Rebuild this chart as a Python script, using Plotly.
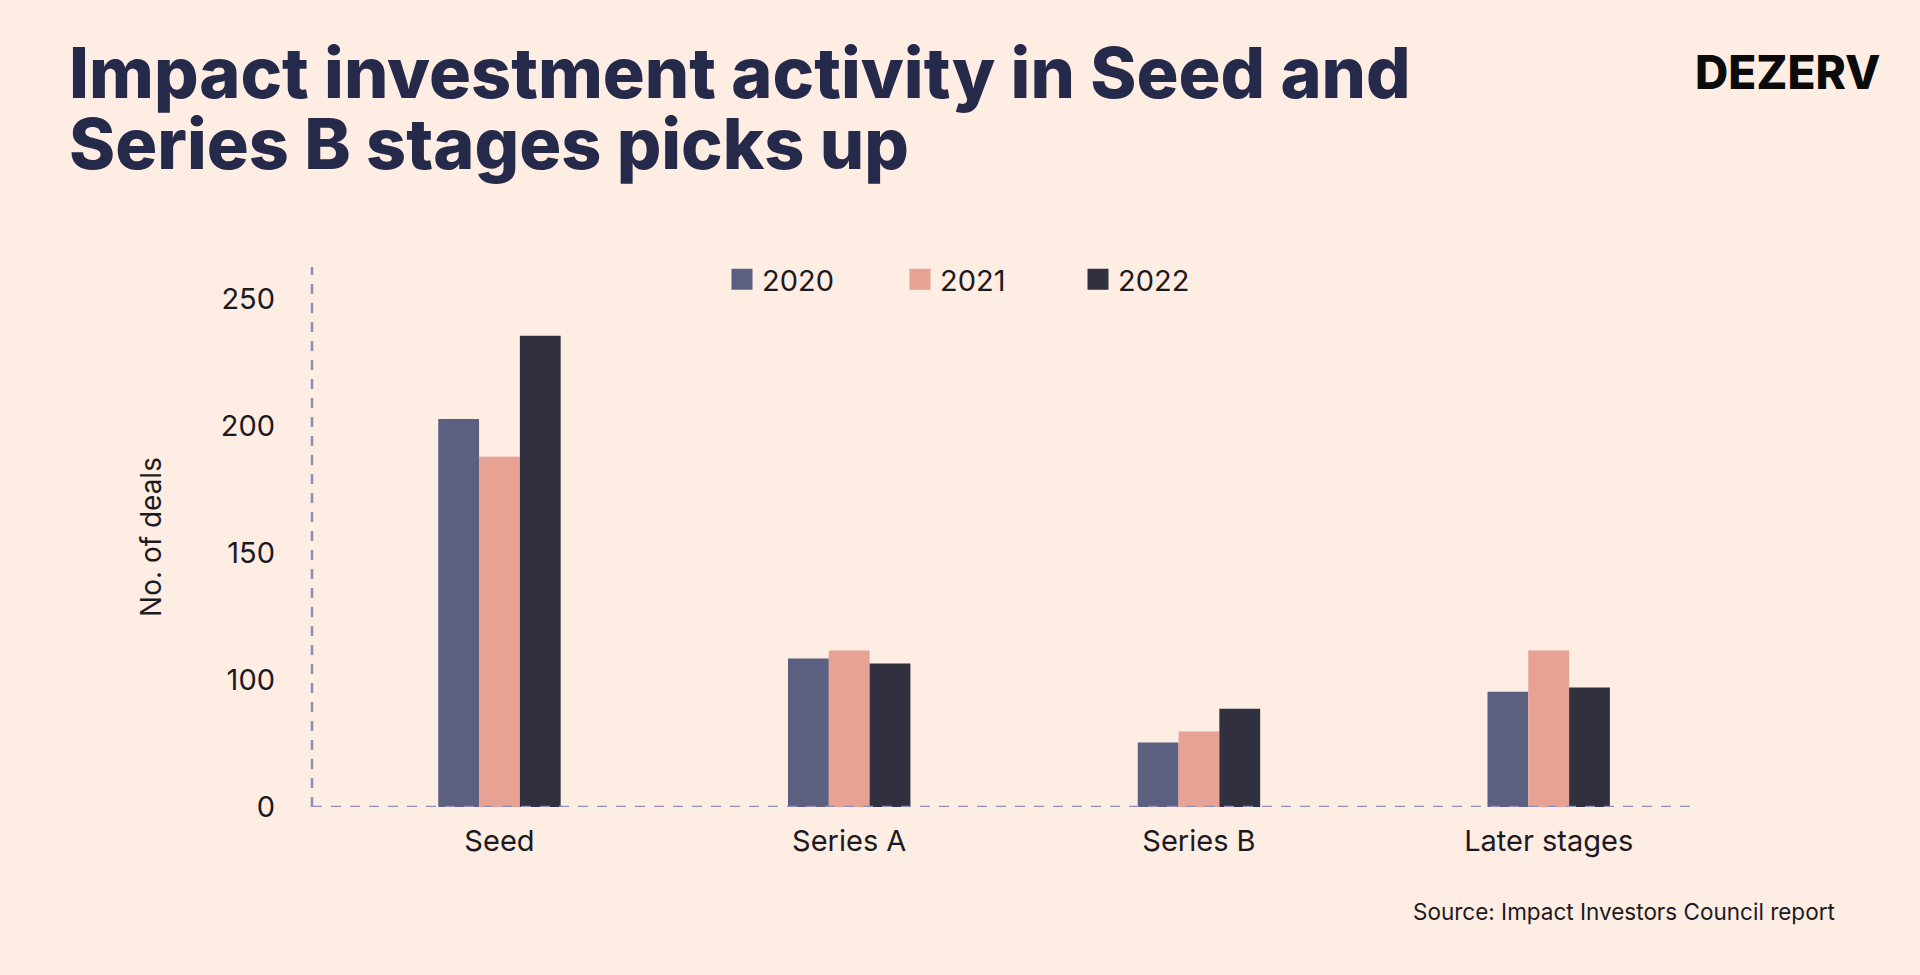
import plotly.graph_objects as go

# ---------------- data ----------------
CATEGORIES = ["Seed", "Series A", "Series B", "Later stages"]
YEARS = ["2020", "2021", "2022"]
VALUES_2020 = [152.8, 58.5, 25.4, 45.4]
VALUES_2021 = [137.9, 61.6, 29.7, 61.6]
VALUES_2022 = [185.5, 56.5, 38.7, 47.0]
Y_TICK_VALUES = [0, 50, 100, 150, 200]
Y_TICK_LABELS = ["0", "100", "150", "200", "250"]

TITLE_LINES = ["Impact investment activity in Seed and", "Series B stages picks up"]
Y_TITLE = "No. of deals"
SOURCE = "Source: Impact Investors Council report"
BRAND = "DEZERV"

# ---------------- style ----------------
BG = "#fdede3"
COLORS = ["#5b5f80", "#e8a294", "#30303e"]
TITLE_COLOR = "#262a4a"
TEXT_COLOR = "#1c1a1f"
DASH_COLOR = "#8b8fbd"
FONT = "Inter"
TITLE_GLYPH_SIZE = 70      # glyph size of the title
TITLE_LEADING_SIZE = 54.6  # base size -> line spacing 1.3 * 54.6 = 71 px

# plot area in pixels
L, R, T, B = 312, 1690, 267, 807.5
PW, PH = R - L, B - T


def px_x(px):
    return (px - L) / PW


def px_y(py):
    return (B - py) / PH


title_text = "<br>".join(
    f'<span style="font-size:{TITLE_GLYPH_SIZE}px">{line}</span>' for line in TITLE_LINES
)

series = [VALUES_2020, VALUES_2021, VALUES_2022]

fig = go.Figure()
for name, vals, color in zip(YEARS, series, COLORS):
    fig.add_trace(go.Bar(x=CATEGORIES, y=vals, name=name, marker=dict(color=color, line=dict(width=0)),
                         legendgroup=name, showlegend=False))
for name, color in zip(YEARS, COLORS):
    fig.add_trace(go.Scatter(x=[None], y=[None], mode="markers", name=name, legendgroup=name,
                             marker=dict(symbol="square", size=16, color=color,
                                         line=dict(color=color, width=5))))

fig.update_layout(
    width=1920, height=975,
    paper_bgcolor=BG, plot_bgcolor=BG,
    margin=dict(l=L, r=1920 - R, t=T, b=975 - B, autoexpand=False),
    barmode="group", bargap=0.65, bargroupgap=0,
    font=dict(family=FONT, color=TEXT_COLOR),
    title=dict(text=title_text,
               font=dict(family=FONT, size=TITLE_LEADING_SIZE, weight=800, color=TITLE_COLOR),
               x=69 / 1920, xanchor="left", xref="container",
               y=1 - 98 / 975, yanchor="top", yref="container"),
    legend=dict(orientation="h", xref="paper", yref="paper",
                x=px_x(722), xanchor="left", y=px_y(279.5), yanchor="middle",
                font=dict(family=FONT, size=29, color=TEXT_COLOR),
                entrywidth=133, entrywidthmode="pixels", bgcolor="rgba(0,0,0,0)"),
    xaxis=dict(range=[-0.536, 3.404], showgrid=False, zeroline=False, showline=False,
               tickfont=dict(family=FONT, size=29, color=TEXT_COLOR), ticks="",
               ticklabelstandoff=14, fixedrange=True, automargin=False),
    yaxis=dict(range=[0, 212.6], showgrid=False, zeroline=False, showline=False,
               tickvals=Y_TICK_VALUES, ticktext=Y_TICK_LABELS, ticks="",
               tickfont=dict(family=FONT, size=29, color=TEXT_COLOR), ticklabelstandoff=36,
               title=dict(text=Y_TITLE, font=dict(family=FONT, size=28, color=TEXT_COLOR),
                          standoff=50), fixedrange=True, automargin=False),
    shapes=[
        dict(type="line", xref="paper", yref="paper", x0=0, x1=0, y0=0, y1=1,
             line=dict(color=DASH_COLOR, width=2.5, dash="10px,9px"), layer="above"),
        dict(type="line", xref="paper", yref="y", x0=0, x1=1, y0=0, y1=0,
             line=dict(color=DASH_COLOR, width=2.5, dash="10px,9px"), layer="above"),
    ],
    annotations=[
        dict(text=SOURCE, xref="paper", yref="paper", x=px_x(1837), y=px_y(912),
             xanchor="right", yanchor="middle", showarrow=False,
             font=dict(family=FONT, size=22.5, color=TEXT_COLOR)),
        dict(text=BRAND, xref="paper", yref="paper", x=px_x(1882), y=px_y(72),
             xanchor="right", yanchor="middle", showarrow=False,
             font=dict(family=FONT, size=46, weight=800, color="#0b0b0b")),
    ],
)

fig.write_html("out.html", config={"displayModeBar": False},
               post_script="document.body.style.margin='0';")
